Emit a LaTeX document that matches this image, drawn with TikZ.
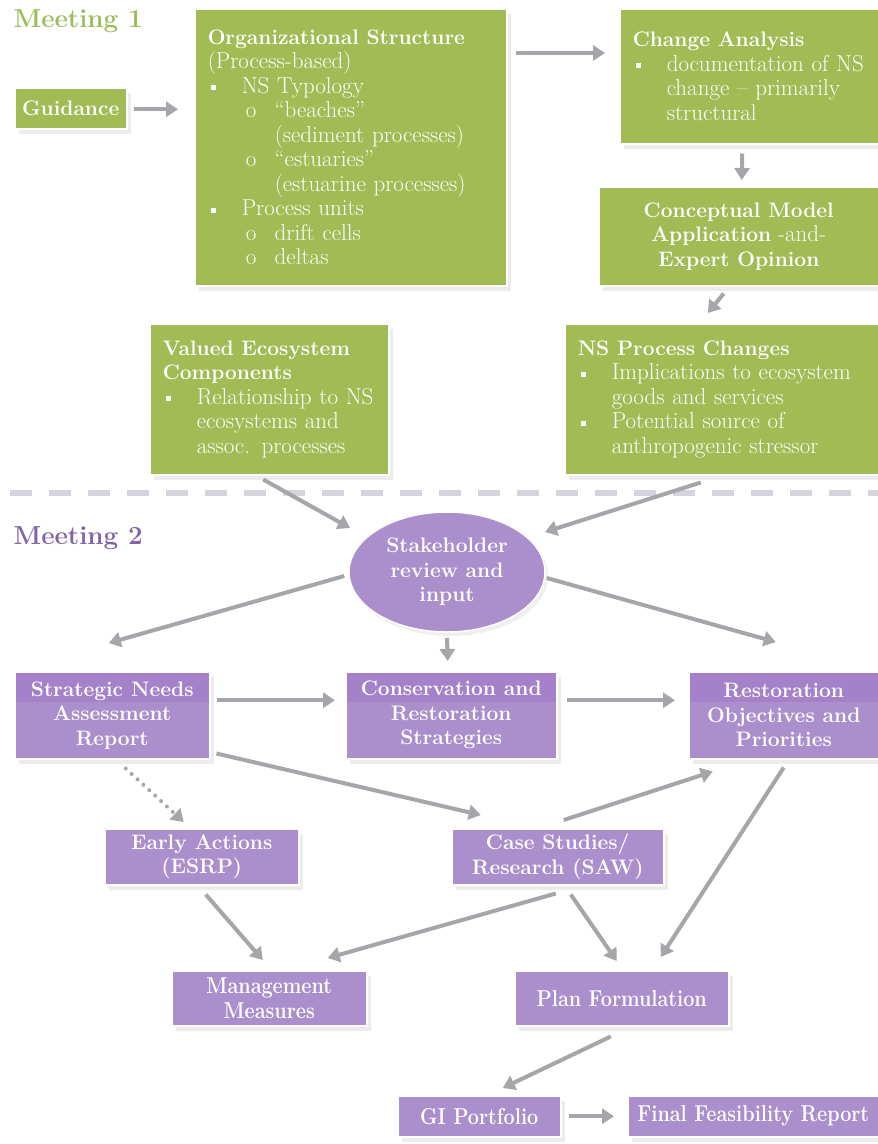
\documentclass[tikz,border=0pt]{standalone}
\usepackage{fontspec}
\usetikzlibrary{arrows.meta,shapes.geometric,shadows}
\definecolor{nsgreen}{RGB}{163,187,85}
\definecolor{nsgreentitle}{RGB}{155,190,90}
\definecolor{nspurple}{RGB}{171,143,204}
\definecolor{nspurpleband}{RGB}{164,129,201}
\definecolor{nspurpletitle}{RGB}{128,100,165}
\definecolor{flowgray}{RGB}{165,165,170}
\definecolor{splitgray}{RGB}{212,212,220}
\newcommand{\sqbul}{\makebox[34pt][l]{\hspace{3pt}\rule[3pt]{5pt}{5pt}}}
\newcommand{\subbul}{\hspace*{38pt}\makebox[29pt][l]{o}}
\newcommand{\hang}{\hspace*{34pt}}
\newcommand{\subhang}{\hspace*{67pt}}
\newcommand{\hd}[1]{{\fontsize{21}{24.5}\selectfont\bfseries #1}}
\newcommand{\narrow}[1]{\scalebox{0.86}[1]{#1}}

\begin{document}
\begin{tikzpicture}[x=1pt,y=-1pt,
        font=\fontsize{23}{24.5}\selectfont\addfontfeatures{FakeBold=0.7},
        box/.style={rectangle,anchor=north west,inner sep=0pt,text=white,draw=white,line width=1.5pt,
            drop shadow={shadow xshift=4pt,shadow yshift=-5pt,fill=black!14}},
        greenbox/.style={box,fill=nsgreen},
        listbox/.style={greenbox,inner xsep=13pt,align=left,text width=#1},
        purplebox/.style={box,fill=nspurple,font=\fontsize{21}{24.5}\selectfont\addfontfeatures{FakeBold=0.7}\bfseries,align=center},
        banded/.style={path picture={\fill[nspurpleband] (path picture bounding box.north west)
            rectangle ([yshift=-30pt]path picture bounding box.north east);}},
        flow/.style={draw=flowgray,line width=4pt,-{Triangle[width=15pt,length=12pt]}},
        hint/.style={flow,line cap=round,dash pattern=on 0pt off 8pt}]
    \useasboundingbox[fill=white] (0,0) rectangle (878,1144);
    \node[anchor=west,text=nsgreentitle,font=\fontsize{26}{30}\selectfont\addfontfeatures{FakeBold=0.7}\bfseries] (meetone) at (10,21) {Meeting 1};
    \node[anchor=west,text=nspurpletitle,font=\fontsize{26}{30}\selectfont\addfontfeatures{FakeBold=0.7}\bfseries] (meettwo) at (10,538) {Meeting 2};
    \draw[splitgray,line width=6pt,dash pattern=on 22pt off 17pt] (10,493) -- (878,493);
    \node[greenbox,minimum width=112pt,minimum height=41pt] (guide) at (14,87) {\hd{Guidance}};
    \node[listbox=286pt,minimum height=277pt] (org) at (194,8) {\hd{Organizational Structure}\\
        (Process-based)\\
        \sqbul NS Typology\\
        \subbul “beaches”\\
        \subhang (sediment processes)\\
        \subbul “estuaries”\\
        \subhang (estuarine processes)\\
        \sqbul Process units\\
        \subbul drift cells\\
        \subbul deltas};
    \node[listbox=233pt,minimum height=135pt] (change) at (619,8) {\hd{Change Analysis}\\
        \sqbul documentation of NS\\
        \hang change – primarily\\
        \hang structural};
    \node[greenbox,minimum width=280pt,minimum height=99pt,align=center] (concept) at (598,186)
        {\hd{Conceptual Model}\\\hd{Application} -and-\\\hd{Expert Opinion}};
    \node[listbox=213pt,minimum height=151pt] (vec) at (149,323) {\hd{Valued Ecosystem}\\
        \hd{Components}\\
        \sqbul Relationship to NS\\
        \hang ecosystems and\\
        \hang assoc. processes};
    \node[listbox=288pt,minimum height=151pt] (nspc) at (564,323) {\hd{NS Process Changes}\\
        \sqbul Implications to ecosystem\\
        \hang goods and services\\
        \sqbul Potential source of\\
        \hang anthropogenic stressor};
    \node[ellipse,fill=nspurple,draw=white,line width=1.5pt,minimum width=196pt,minimum height=120pt,inner sep=0pt,
        text=white,align=center,
        drop shadow={shadow xshift=3pt,shadow yshift=-4pt,fill=black!12}] (stake) at (447,572) {\hd{Stakeholder}\\\hd{review and}\\\hd{input}};
    \node[purplebox,banded,minimum width=195pt,minimum height=87pt] (sna) at (14,671) {Strategic Needs\\Assessment\\Report};
    \node[purplebox,banded,minimum width=211pt,minimum height=87pt] (cons) at (345,671) {Conservation and\\Restoration\\Strategies};
    \node[purplebox,banded,minimum width=190pt,minimum height=87pt] (rest) at (688,671) {Restoration\\Objectives and\\Priorities};
    \node[purplebox,minimum width=194pt,minimum height=56pt] (early) at (104,828) {Early Actions\\(ESRP)};
    \node[purplebox,minimum width=212pt,minimum height=56pt] (case) at (451,828) {Case Studies/\\Research (SAW)};
    \node[purplebox,minimum width=195pt,minimum height=55pt,font=\fontsize{23}{24.5}\selectfont\addfontfeatures{FakeBold=0.7}\bfseries] (mgmt) at (171,970) {\narrow{Management}\\\narrow{Measures}};
    \node[purplebox,minimum width=214pt,minimum height=55pt,font=\fontsize{23}{24.5}\selectfont\addfontfeatures{FakeBold=0.7}\bfseries] (plan) at (514,970) {\narrow{Plan Formulation}};
    \node[purplebox,minimum width=163pt,minimum height=41pt,font=\fontsize{23}{24.5}\selectfont\addfontfeatures{FakeBold=0.7}\bfseries] (gi) at (397,1095) {\narrow{GI Portfolio}};
    \node[purplebox,minimum width=251pt,minimum height=41pt,font=\fontsize{23}{24.5}\selectfont\addfontfeatures{FakeBold=0.7}\bfseries] (final) at (627,1095) {\narrow{Final Feasibility Report}};
    \draw[flow] ([shift={(6,1)}]guide.east) -- ([shift={(-16,1)}]guide.east -| org.west);
    \draw[flow] ([shift={(8,45)}]org.north east) -- ([shift={(-14,45)}]change.north west);
    \draw[flow] ([shift={(-7,9)}]change.south) -- ([shift={(3,-6)}]concept.north);
    \draw[flow] ([shift={(-15,7)}]concept.south) -- ([shift={(-14,-10)}]nspc.north);
    \draw[flow] ([shift={(-6,4)}]vec.south) -- ([shift={(-97,-44)}]stake.center);
    \draw[flow] ([shift={(-21,7)}]nspc.south) -- ([shift={(98,-40)}]stake.center);
    \draw[flow] ([shift={(-4,4)}]stake.west) -- ([shift={(-3.5,-28)}]sna.north);
    \draw[flow] ([shift={(0,5)}]stake.south) -- ([shift={(-3.5,-10)}]cons.north);
    \draw[flow] ([shift={(1,6)}]stake.east) -- ([shift={(-8,-29)}]rest.north);
    \draw[flow] ([shift={(6,-15)}]sna.east) -- ([shift={(-10,-15)}]cons.west);
    \draw[flow] ([shift={(9,-15)}]cons.east) -- ([shift={(-13,-15)}]rest.west);
    \draw[flow] ([shift={(6,-6)}]sna.south east) -- ([shift={(-77,-13)}]case.north);
    \draw[hint] ([shift={(13.5,9)}]sna.south) -- ([shift={(-18,-6)}]early.north);
    \draw[flow] ([shift={(6,-8)}]case.north) -- ([shift={(-71,12)}]rest.south);
    \draw[flow] ([shift={(0,8)}]rest.south) -- ([shift={(39,-13)}]plan.north);
    \draw[flow] ([shift={(4,9)}]early.south) -- ([shift={(-6.5,-10)}]mgmt.north);
    \draw[flow] ([shift={(-2,8)}]case.south) -- ([shift={(58.5,-12)}]mgmt.north);
    \draw[flow] ([shift={(13,9)}]case.south) -- ([shift={(-5,-9)}]plan.north);
    \draw[flow] ([shift={(-11,10)}]plan.south) -- ([shift={(23.5,-7)}]gi.north);
    \draw[flow] ([shift={(7,0)}]gi.east) -- ([shift={(-13,0)}]final.west);
\end{tikzpicture}
\end{document}
